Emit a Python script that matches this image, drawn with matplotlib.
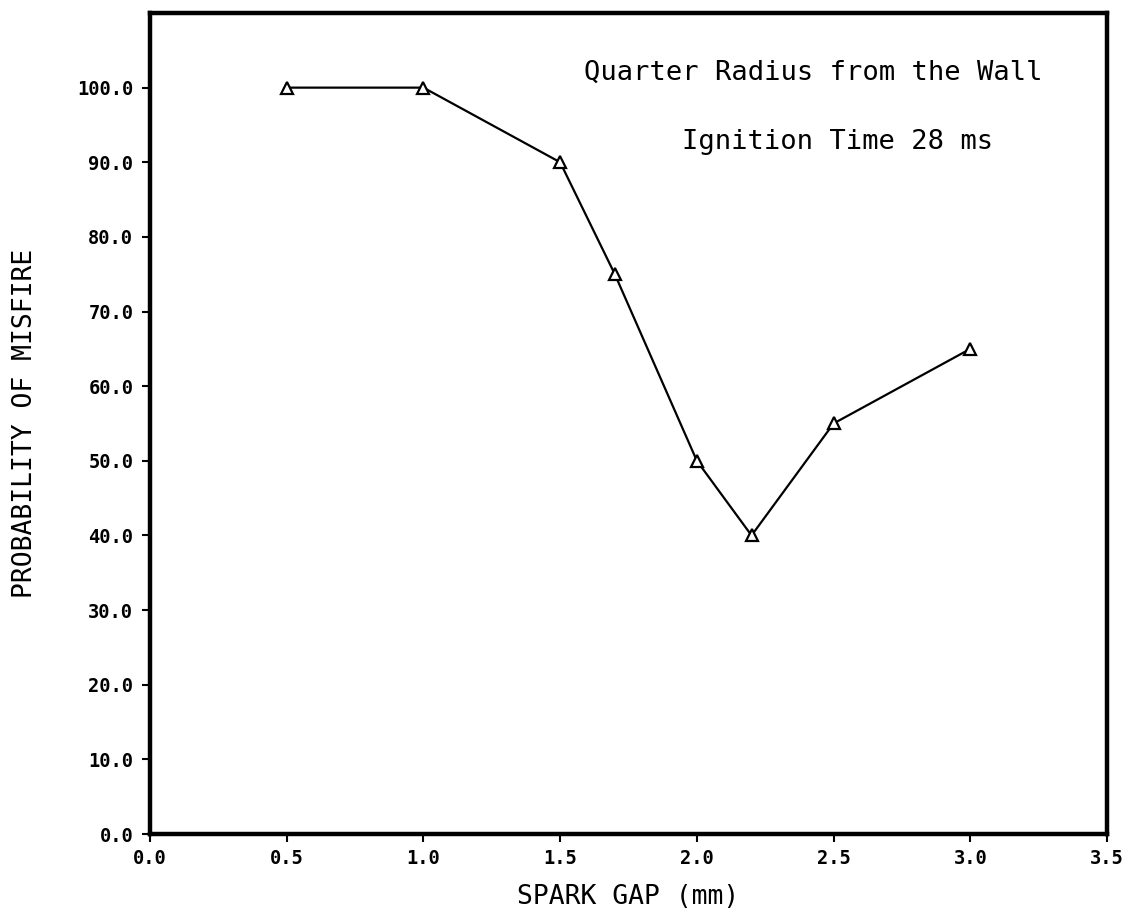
import matplotlib
matplotlib.use("Agg")
import matplotlib.pyplot as plt
import numpy as np

# spark gap (mm) vs probability of misfire (%)
spark_gap = [0.5, 1.0, 1.5, 1.7, 2.0, 2.2, 2.5, 3.0]
misfire = [100.0, 100.0, 90.0, 75.0, 50.0, 40.0, 55.0, 65.0]

x_ticks = np.arange(0, 3.51, 0.5)
y_ticks = np.arange(0, 100.1, 10)

mono = "DejaVu Sans Mono"

fig = plt.figure(figsize=(11.4, 9.13), dpi=100)
# axes box in pixels: left 150, right 1107, top 13, bottom 834
ax = fig.add_axes([150 / 1140, (913 - 834) / 913, (1107 - 150) / 1140, (834 - 13) / 913])

ax.plot(spark_gap, misfire, color="black", lw=1.6, marker="^", ms=9,
        mfc="white", mec="black", mew=1.6)

ax.set_xlim(0, 3.5)
ax.set_ylim(0, 110)
ax.set_xticks(x_ticks)
ax.set_yticks(y_ticks)
ax.set_xticklabels([f"{v:.1f}" for v in x_ticks], family=mono, weight="bold", fontsize=13.5)
ax.set_yticklabels([f"{v:.1f}" for v in y_ticks], family=mono, weight="bold", fontsize=13.5)
ax.tick_params(direction="out", length=6, width=1.5)
ax.tick_params(axis="y", pad=6)
ax.tick_params(axis="x", pad=5)

for s in ax.spines.values():
    s.set_linewidth(3.2)

ax.set_xlabel("SPARK GAP (mm)", family=mono, fontsize=19)
ax.set_ylabel("PROBABILITY OF MISFIRE", family=mono, fontsize=19)
ax.xaxis.set_label_coords(0.5, -0.061)
ax.yaxis.set_label_coords(-0.117, 0.5)

ax.text(0.693, 0.927, "Quarter Radius from the Wall", transform=ax.transAxes,
        ha="center", va="center", family=mono, fontsize=19.5)
ax.text(0.718, 0.843, "Ignition Time 28 ms", transform=ax.transAxes,
        ha="center", va="center", family=mono, fontsize=19.5)

plt.savefig("out.png", dpi=100)
plt.close()
